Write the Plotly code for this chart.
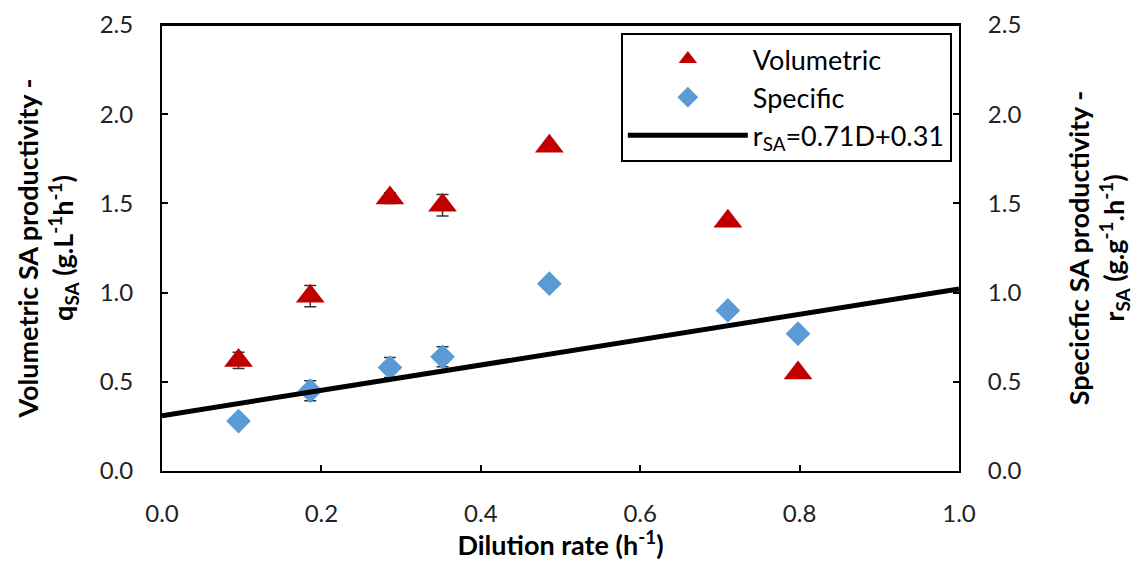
import plotly.graph_objects as go
from plotly.subplots import make_subplots

# Data
dilution = [0.096, 0.186, 0.286, 0.352, 0.486, 0.710, 0.798]
volumetric = [0.62, 0.98, 1.53, 1.49, 1.82, 1.40, 0.55]
volumetric_err = [0.045, 0.06, 0.03, 0.06, 0.02, 0.02, 0.0]
specific = [0.28, 0.45, 0.58, 0.64, 1.05, 0.90, 0.77]
specific_err = [0.0, 0.056, 0.056, 0.056, 0.0, 0.0, 0.0]
fit_slope = 0.71
fit_intercept = 0.31
fit_x = [0.0, 1.0]
fit_y = [fit_slope * x + fit_intercept for x in fit_x]

FONT = "Lato"

fig = make_subplots(specs=[[{"secondary_y": True}]])

fig.add_trace(go.Scatter(
    x=dilution, y=volumetric, mode="markers", name="Volumetric",
    marker=dict(symbol="triangle-up", size=25, color="#C00000"),
    error_y=dict(type="data", array=volumetric_err, color="#333333", thickness=1.5, width=6),
), secondary_y=False)

fig.add_trace(go.Scatter(
    x=dilution, y=specific, mode="markers", name="Specific",
    marker=dict(symbol="diamond", size=19, color="#5B9BD5"),
    error_y=dict(type="data", array=specific_err, color="#333333", thickness=1.5, width=6),
), secondary_y=True)

fig.add_trace(go.Scatter(
    x=fit_x, y=fit_y, mode="lines", name="r<sub>SA</sub>=0.71D+0.31",
    line=dict(color="black", width=5),
), secondary_y=True)

axis_common = dict(
    range=[0, 2.5], dtick=0.5, tickformat=".1f", showgrid=False, zeroline=False,
    showline=True, linecolor="black", linewidth=2, automargin=False,
    ticks="inside", ticklen=6, tickwidth=1.5, tickcolor="black",
    tickfont=dict(family=FONT, size=24, color="#222222"),
)

fig.update_yaxes(
    title=dict(text="<b>Volumetric SA productivity -<br>q<sub>SA</sub> (g.L<sup>-1</sup>h<sup>-1</sup>)</b>",
               font=dict(family=FONT, size=27, color="black"), standoff=18),
    ticklabelstandoff=22,
    **axis_common, secondary_y=False,
)
fig.update_yaxes(
    title=dict(text="<b>Specicfic SA productivity -<br>r<sub>SA</sub> (g.g<sup>-1</sup>.h<sup>-1</sup>)</b>",
               font=dict(family=FONT, size=27, color="black"), standoff=50),
    ticklabelstandoff=22,
    **axis_common, secondary_y=True,
)
fig.update_xaxes(
    domain=[0, 1], automargin=False,
    range=[0, 1.0], dtick=0.2, tickformat=".1f", showgrid=False, zeroline=False,
    showline=True, linecolor="black", linewidth=2, mirror=True,
    ticks="inside", ticklen=6, tickwidth=1.5, tickcolor="black",
    tickfont=dict(family=FONT, size=24, color="#222222"),
    ticklabelstandoff=20,
    title=dict(text="<b>Dilution rate (h<sup>-1</sup>)</b>",
               font=dict(family=FONT, size=27, color="black"), standoff=15),
)

fig.update_layout(
    width=1134, height=561,
    margin=dict(l=162, r=175, t=25, b=90),
    plot_bgcolor="white", paper_bgcolor="white",
    font=dict(family=FONT, color="black"),
    showlegend=True,
    legend=dict(
        x=0.991, y=0.982, xanchor="right", yanchor="top",
        bordercolor="black", borderwidth=2, bgcolor="white",
        font=dict(family=FONT, size=27, color="black"),
        tracegroupgap=0, itemwidth=120,
    ),
)
# top border line
fig.update_layout(shapes=[dict(type="line", xref="paper", yref="paper", x0=0, x1=1, y0=1, y1=1,
                               line=dict(color="black", width=2))])

fig.write_html("out.html")
